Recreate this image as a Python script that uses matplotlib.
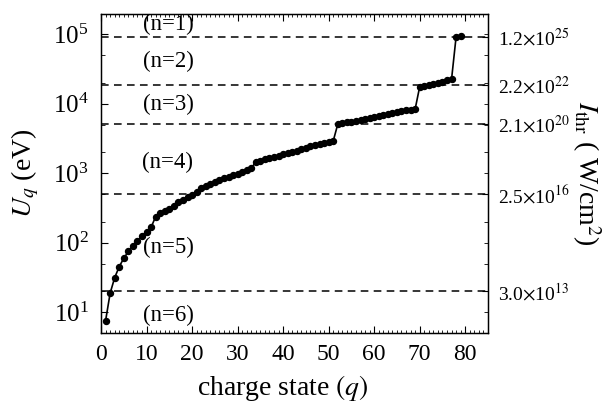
import numpy as np
import matplotlib
matplotlib.use("Agg")
import matplotlib.pyplot as plt
from matplotlib.ticker import FixedLocator, FixedFormatter, NullFormatter, LogFormatterMathtext

plt.rcParams["font.family"] = ["Liberation Serif", "DejaVu Serif"]
plt.rcParams["mathtext.fontset"] = "stix"

# Charge state q and ionization potential U_q (eV)
charge = list(range(1, 80))
u_q = [
    7.6, 18.9, 31.6, 45.5, 60, 75, 90, 106, 125, 143,
    167, 238, 266, 284, 310, 339, 383, 415, 450, 490,
    540, 610, 650, 690, 740, 790, 840, 880, 930, 980,
    1040, 1100, 1170, 1460, 1520, 1580, 1640, 1700, 1780, 1860,
    1930, 2000, 2080, 2250, 2330, 2420, 2500, 2600, 2700, 2800,
    2900, 5050, 5200, 5350, 5500, 5650, 5800, 5950, 6150, 6350,
    6550, 6900, 7100, 7300, 7500, 7750, 8000, 8200, 8350, 17500,
    18000, 18600, 19400, 20000, 20700, 21700, 22500, 91800, 93000,
]

# Shell boundaries (dashed lines) and threshold intensity labels
shell_levels = [9.08e4, 1.86e4, 5.1e3, 4.98e2, 20.0]
intensity_labels = [
    r"1.2$\times$10$^{25}$",
    r"2.2$\times$10$^{22}$",
    r"2.1$\times$10$^{20}$",
    r"2.5$\times$10$^{16}$",
    r"3.0$\times$10$^{13}$",
]
shell_names = ["(n=1)", "(n=2)", "(n=3)", "(n=4)", "(n=5)", "(n=6)"]
shell_text_y = [1.35e5, 3.98e4, 9.6e3, 1.43e3, 85, 8.9]

fig = plt.figure(figsize=(6.05, 4.08), dpi=100)
ax = fig.add_axes([0.167, 0.184, 0.6396, 0.782])

ax.plot(charge, u_q, "-o", color="black", lw=1.2, ms=4.3)
for lev in shell_levels:
    ax.axhline(lev, color="black", lw=1.1, ls=(0, (5, 3.5)))
for name, ty in zip(shell_names, shell_text_y):
    ax.text(14.7, ty, name, ha="center", va="center", fontsize=16.5)

ax.set_yscale("log")
ax.set_xlim(0, 85)
ax.set_ylim(5.07, 1.945e5)

# x ticks
ax.xaxis.set_major_locator(FixedLocator(range(0, 81, 10)))
ax.xaxis.set_minor_locator(FixedLocator(range(0, 86)))
# y ticks: decades major, 2 and 5 minor
ax.yaxis.set_major_locator(FixedLocator([1e1, 1e2, 1e3, 1e4, 1e5]))
ax.yaxis.set_major_formatter(LogFormatterMathtext())
minors = [m * 10.0 ** e for e in range(0, 6) for m in (2, 5)]
ax.yaxis.set_minor_locator(FixedLocator(minors))
ax.yaxis.set_minor_formatter(NullFormatter())

ax.tick_params(axis="x", which="major", direction="in", length=5, width=0.8,
               top=True, labelsize=17, pad=8)
ax.tick_params(axis="x", which="minor", direction="in", length=2.5, width=0.6,
               top=True)
ax.tick_params(axis="y", which="major", direction="in", length=5, width=0.8,
               right=False, labelsize=18, pad=9)
ax.tick_params(axis="y", which="minor", direction="in", length=3, width=0.6,
               right=False)

for s in ax.spines.values():
    s.set_linewidth(1.0)

ax.set_xlabel("charge state $(q)$", fontsize=20, va="center")
ax.xaxis.set_label_coords(0.47, -0.173)
ax.set_ylabel(r"$U_q$ (eV)", fontsize=20, va="center")
ax.yaxis.set_label_coords(-0.195, 0.5)

# right axis with threshold intensities
ax2 = ax.twinx()
ax2.set_yscale("log")
ax2.set_ylim(ax.get_ylim())
ax2.yaxis.set_major_locator(FixedLocator(shell_levels))
ax2.yaxis.set_major_formatter(FixedFormatter(intensity_labels))
ax2.yaxis.set_minor_locator(FixedLocator(minors + [1e1, 1e2, 1e3, 1e4, 1e5]))
ax2.yaxis.set_minor_formatter(NullFormatter())
ax2.tick_params(axis="y", which="major", direction="in", length=4, width=0.8,
                labelsize=14, pad=7)
ax2.tick_params(axis="y", which="minor", direction="in", length=3, width=0.6)
ax2.set_ylabel(r"$I_{\rm thr}$ ( W/cm$^2$)", fontsize=20, rotation=270,
               va="center")
ax2.yaxis.set_label_coords(1.255, 0.5)

fig.savefig("out.png", dpi=100)
